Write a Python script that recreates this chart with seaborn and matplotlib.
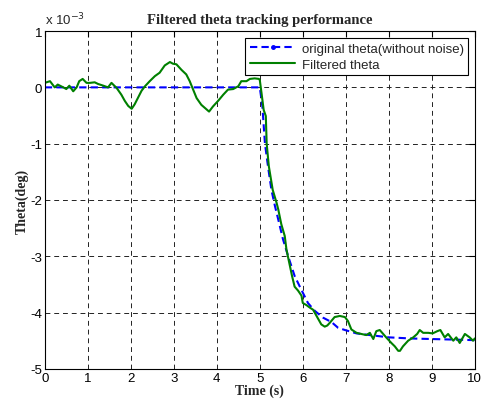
import matplotlib
matplotlib.use("Agg")
import matplotlib.pyplot as plt
from matplotlib.lines import Line2D
import pandas as pd
import seaborn as sns

# values in units of 1e-3 deg
t_orig = [0, 5.0, 5.06, 5.12, 5.19, 5.27, 5.35, 5.43, 5.54, 5.66, 5.81, 5.97,
          6.12, 6.28, 6.47, 6.67, 6.82, 6.98, 7.25, 7.56, 8.0, 8.5, 9.0, 9.5, 10.0]
theta_orig = [0, 0, -0.34, -1.0, -1.4, -1.82, -2.1, -2.35, -2.7, -3.0, -3.35, -3.6,
              -3.83, -3.97, -4.09, -4.17, -4.27, -4.31, -4.37, -4.4, -4.44, -4.46,
              -4.47, -4.48, -4.49]

t_filt = [0.0, 0.12, 0.23, 0.3, 0.43, 0.5, 0.57, 0.66, 0.74, 0.8, 0.88, 0.97,
          1.05, 1.16, 1.24, 1.36, 1.47, 1.55, 1.67, 1.78, 1.86, 1.94, 2.02, 2.09,
          2.17, 2.25, 2.33, 2.44, 2.56, 2.67, 2.79, 2.91, 2.98, 3.06, 3.18, 3.29,
          3.37, 3.45, 3.53, 3.64, 3.76, 3.82, 3.91, 4.03, 4.15, 4.26, 4.38, 4.5,
          4.57, 4.69, 4.77, 4.88, 4.98, 5.0, 5.04, 5.09, 5.14, 5.16, 5.21, 5.3,
          5.39, 5.43, 5.5, 5.58, 5.62, 5.7, 5.75, 5.81, 5.89, 5.97, 6.0, 6.09,
          6.16, 6.24, 6.32, 6.43, 6.51, 6.57, 6.63, 6.74, 6.86, 6.98, 7.05, 7.13,
          7.25, 7.36, 7.48, 7.56, 7.64, 7.71, 7.79, 7.87, 7.95, 8.06, 8.14, 8.22,
          8.26, 8.33, 8.45, 8.57, 8.66, 8.72, 8.8, 8.92, 9.02, 9.13, 9.2, 9.3,
          9.38, 9.5, 9.57, 9.65, 9.77, 9.88, 9.96, 10.0]
theta_filt = [0.08, 0.11, 0.0, 0.05, 0.0, -0.03, 0.03, -0.07, 0.0, 0.11, 0.15, 0.08,
              0.08, 0.09, 0.06, 0.03, 0.0, 0.08, -0.01, -0.13, -0.24, -0.33, -0.38, -0.3,
              -0.18, -0.06, 0.02, 0.11, 0.2, 0.26, 0.39, 0.45, 0.42, 0.41, 0.31, 0.23,
              0.11, -0.04, -0.19, -0.31, -0.39, -0.43, -0.34, -0.24, -0.13, -0.04, -0.03, 0.02,
              0.11, 0.11, 0.15, 0.16, 0.15, 0.13, -0.1, -0.4, -0.51, -1.0, -1.4, -1.82,
              -2.05, -2.17, -2.43, -2.64, -2.88, -3.17, -3.35, -3.54, -3.61, -3.7, -3.83, -3.87,
              -3.91, -3.95, -4.06, -4.21, -4.25, -4.23, -4.18, -4.08, -4.06, -4.08, -4.15, -4.3,
              -4.36, -4.38, -4.4, -4.36, -4.47, -4.33, -4.31, -4.38, -4.45, -4.54, -4.6, -4.68,
              -4.68, -4.6, -4.5, -4.44, -4.38, -4.31, -4.36, -4.36, -4.37, -4.33, -4.31, -4.44,
              -4.38, -4.5, -4.44, -4.54, -4.38, -4.44, -4.5, -4.46]

df_o = pd.DataFrame({"t": t_orig, "theta": theta_orig})
df_f = pd.DataFrame({"t": t_filt, "theta": theta_filt})

sns.set_style("white")
plt.rcParams["font.family"] = ["Liberation Sans", "DejaVu Sans"]
plt.rcParams["axes.unicode_minus"] = False

fig = plt.figure(figsize=(4.82, 4.06), dpi=100)
ax = fig.add_axes([0.093, 0.089, 0.892, 0.832])

sns.lineplot(data=df_o, x="t", y="theta", ax=ax, color="#0000ff",
             linestyle=(0, (3.5, 2)), linewidth=1.5, estimator=None, sort=False)
sns.lineplot(data=df_f, x="t", y="theta", ax=ax, color="#008000",
             linewidth=1.5, estimator=None, sort=False)

ax.set_xlim(0, 10)
ax.set_ylim(-5, 1)
ax.set_xticks(range(0, 11))
ax.set_yticks(range(-5, 2))
ax.grid(True, color="#222222", linestyle=(0, (5, 4)), linewidth=0.7)
for s in ax.spines.values():
    s.set_visible(True)
    s.set_color("black")
    s.set_linewidth(0.8)
ax.tick_params(direction="in", top=True, right=True, length=4, width=0.8,
               labelsize=9.5, pad=2, colors="black")

ax.set_title("Filtered theta tracking performance", family="Liberation Serif",
             fontweight="bold", fontsize=10.5, pad=6)
ax.set_xlabel("Time (s)", family="Liberation Serif", fontweight="bold", fontsize=10, labelpad=0)
ax.set_ylabel("Theta(deg)", family="Liberation Serif", fontweight="bold", fontsize=10, labelpad=1)
ax.text(0.0, 1.012, "x 10$^{-3}$", transform=ax.transAxes, fontsize=9.5, ha="left", va="bottom")

handles = [Line2D([], [], color="#0000ff", linestyle=(0, (3.5, 2)), linewidth=1.5,
                  marker=".", markersize=5),
           Line2D([], [], color="#008000", linewidth=1.5)]
leg = ax.legend(handles, ["original theta(without noise)", "Filtered theta"],
                loc="upper right", fontsize=9.5, frameon=True, fancybox=False,
                edgecolor="black", framealpha=1, borderpad=0.35, labelspacing=0.3,
                handlelength=3.4, handletextpad=0.5, borderaxespad=0.5)
leg.get_frame().set_linewidth(0.8)

fig.savefig("out.png", dpi=100)
